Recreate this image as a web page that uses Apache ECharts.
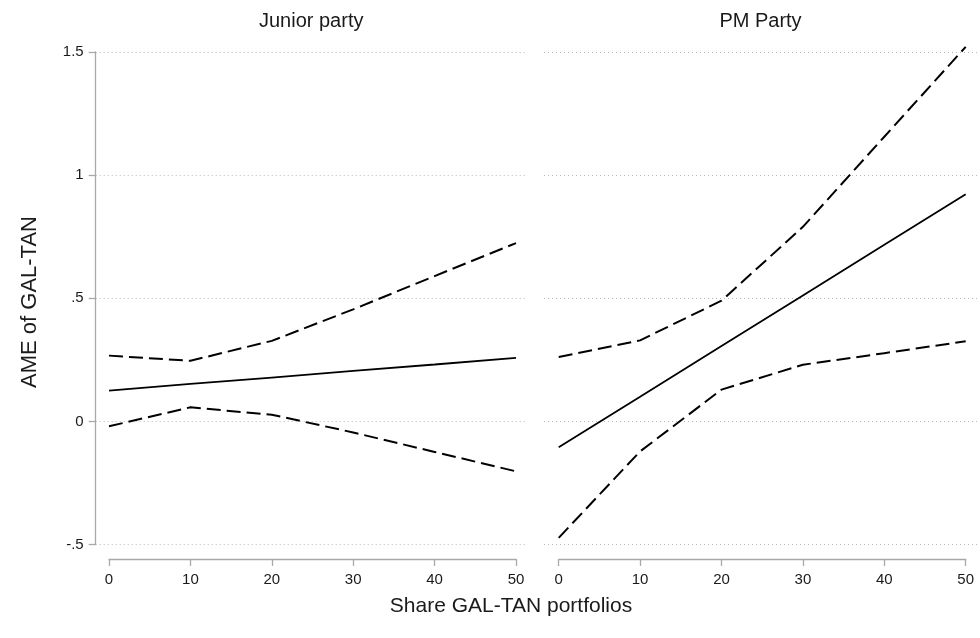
<!DOCTYPE html>
<html>
<head>
<meta charset="utf-8">
<script src="https://cdn.jsdelivr.net/npm/echarts@6/dist/echarts.min.js"></script>
<style>
html,body{margin:0;padding:0;background:#fff;}
#chart{width:980px;height:638px;}
</style>
</head>
<body>
<div id="chart"></div>
<script>
// ---- data ----
const panelTitles = ['Junior party', 'PM Party'];
const xValues = [0, 10, 20, 30, 40, 50];
const yTickLabels = ['-.5', '0', '.5', '1', '1.5'];
const juniorEst   = [0.125, 0.152, 0.178, 0.205, 0.231, 0.258];
const juniorUpper = [0.267, 0.246, 0.327, 0.455, 0.590, 0.724];
const juniorLower = [-0.020, 0.057, 0.027, -0.045, -0.124, -0.203];
const pmEst   = [-0.105, 0.100, 0.306, 0.511, 0.717, 0.922];
const pmUpper = [0.261, 0.329, 0.490, 0.790, 1.156, 1.521];
const pmLower = [-0.473, -0.122, 0.129, 0.230, 0.277, 0.325];
const yTitle = 'AME of GAL-TAN';
const xTitle = 'Share GAL-TAN portfolios';

// ---- layout ----
const FONT = '"Liberation Sans", Arial, Helvetica, sans-serif';
const AXIS_COLOR = '#a8a8a8';
const TEXT_COLOR = '#1a1a1a';
const yTopPx = 52, yBotPx = 544.5, xAxisPx = 559;
const pxPerUnit = (yBotPx - yTopPx) / 2;
const dataYMin = -0.5 - (xAxisPx - yBotPx) / pxPerUnit;

const panelsLayout = [
  { gridLeft: 95.7, gridRight: 526.7, dataLeft: 109, dataRight: 516, showY: true },
  { gridLeft: 544, gridRight: 977, dataLeft: 558.7, dataRight: 965.7, showY: false }
];
const seriesSets = [
  [juniorEst, juniorUpper, juniorLower],
  [pmEst, pmUpper, pmLower]
];

const grids = [], xAxes = [], yAxes = [], series = [], graphics = [];

panelsLayout.forEach((p, i) => {
  // axis grid (y axis + dotted gridlines)
  grids.push({ left: p.gridLeft, top: yTopPx, width: p.gridRight - p.gridLeft, height: yBotPx - yTopPx });
  xAxes.push({ type: 'value', gridIndex: grids.length - 1, min: 0, max: 1, show: false });
  yAxes.push({
    type: 'value', gridIndex: grids.length - 1, min: -0.5, max: 1.5, interval: 0.5,
    axisLine: { show: p.showY, lineStyle: { color: AXIS_COLOR, width: 1.3 } },
    axisTick: { show: p.showY, length: 7, inside: false, lineStyle: { color: AXIS_COLOR, width: 1.3 } },
    axisLabel: {
      show: p.showY, margin: 12, color: TEXT_COLOR, fontSize: 15, fontFamily: FONT,
      formatter: v => yTickLabels[Math.round((v + 0.5) / 0.5)]
    },
    splitLine: { show: true, lineStyle: { color: '#b8b8b8', type: [1, 3], width: 1 } }
  });
  // data grid (x axis + lines)
  grids.push({ left: p.dataLeft, top: yTopPx, width: p.dataRight - p.dataLeft, height: xAxisPx - yTopPx });
  const gi = grids.length - 1;
  xAxes.push({
    type: 'value', gridIndex: gi, min: 0, max: 50, interval: 10,
    axisLine: { show: true, onZero: false, lineStyle: { color: AXIS_COLOR, width: 1.3 } },
    axisTick: { show: true, length: 7, inside: false, lineStyle: { color: AXIS_COLOR, width: 1.3 } },
    axisLabel: { margin: 13, color: TEXT_COLOR, fontSize: 15, fontFamily: FONT },
    splitLine: { show: false }
  });
  yAxes.push({ type: 'value', gridIndex: gi, min: dataYMin, max: 1.5, show: false, splitLine: { show: false } });

  const [est, up, lo] = seriesSets[i];
  const mk = (arr, dashed) => ({
    type: 'line', xAxisIndex: xAxes.length - 1, yAxisIndex: yAxes.length - 1,
    data: xValues.map((x, k) => [x, arr[k]]),
    symbol: 'none', clip: false, silent: true, animation: false,
    lineStyle: { color: '#000', width: dashed ? 2 : 1.8, type: dashed ? [14, 6] : 'solid' }
  });
  series.push(mk(up, true), mk(lo, true), mk(est, false));

  graphics.push({
    type: 'text', x: (p.gridLeft + p.gridRight) / 2, y: 21,
    style: { text: panelTitles[i], font: '20px ' + FONT, fill: TEXT_COLOR, textAlign: 'center', textVerticalAlign: 'middle' }
  });
});

graphics.push({
  type: 'text', x: 30, y: 302, rotation: Math.PI / 2,
  style: { text: yTitle, font: '22px ' + FONT, fill: TEXT_COLOR, textAlign: 'center', textVerticalAlign: 'middle' }
});
graphics.push({
  type: 'text', x: 511, y: 606,
  style: { text: xTitle, font: '21px ' + FONT, fill: TEXT_COLOR, textAlign: 'center', textVerticalAlign: 'middle' }
});

const chart = echarts.init(document.getElementById('chart'), null, { renderer: 'canvas' });
chart.setOption({
  backgroundColor: '#ffffff',
  animation: false,
  grid: grids,
  xAxis: xAxes,
  yAxis: yAxes,
  series: series,
  graphic: graphics
});
</script>
</body>
</html>
